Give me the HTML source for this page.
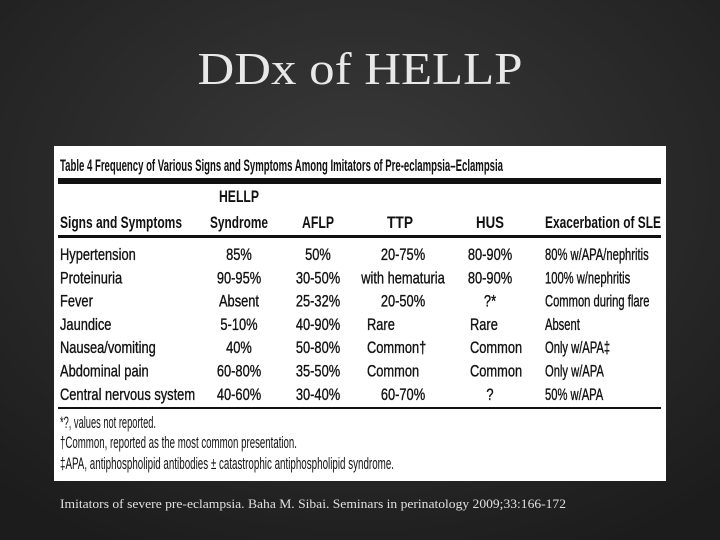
<!DOCTYPE html>
<html><head><meta charset="utf-8"><style>
html,body{margin:0;padding:0;width:720px;height:540px;overflow:hidden;background:#222}
svg{display:block}
.c{font-family:"Liberation Sans",sans-serif;font-size:16.5px;fill:#111}
.h{font-weight:bold}
</style></head><body>
<svg width="720" height="540" viewBox="0 0 720 540">
<defs><radialGradient id="bg" cx="50%" cy="35%" r="75%"><stop offset="0" stop-color="#3a3a3a"/><stop offset="1" stop-color="#1c1c1c"/></radialGradient></defs>
<rect width="720" height="540" fill="url(#bg)"/>
<text x="360" y="84" text-anchor="middle" textLength="325" lengthAdjust="spacingAndGlyphs" font-family="Liberation Serif, serif" font-size="46" fill="#e8e8e8">DDx of HELLP</text>
<rect x="54" y="146" width="612" height="335" fill="#fff"/>
<text x="60" y="171" class="c h" font-size="14" textLength="443" lengthAdjust="spacingAndGlyphs">Table 4  Frequency of Various Signs and Symptoms Among Imitators of Pre-eclampsia–Eclampsia</text>
<rect x="58" y="178" width="603" height="6" fill="#111"/>
<rect x="58" y="235" width="603" height="3" fill="#111"/>
<rect x="58" y="407" width="603" height="2" fill="#111"/>
<g class="c h" font-size="16">
<text x="239" y="202" text-anchor="middle" textLength="40" lengthAdjust="spacingAndGlyphs">HELLP</text>
<text x="60" y="228" textLength="122" lengthAdjust="spacingAndGlyphs">Signs and Symptoms</text>
<text x="239" y="228" text-anchor="middle" textLength="58" lengthAdjust="spacingAndGlyphs">Syndrome</text>
<text x="318" y="228" text-anchor="middle" textLength="32" lengthAdjust="spacingAndGlyphs">AFLP</text>
<text x="400" y="228" text-anchor="middle" textLength="26" lengthAdjust="spacingAndGlyphs">TTP</text>
<text x="490" y="228" text-anchor="middle" textLength="28" lengthAdjust="spacingAndGlyphs">HUS</text>
<text x="545" y="228" textLength="116" lengthAdjust="spacingAndGlyphs">Exacerbation of SLE</text>
</g>
<g class="c" id="rows" transform="scale(0.78,1)"></g>
<g class="c" font-size="13.5">
<text x="60" y="428" textLength="96" lengthAdjust="spacingAndGlyphs">*?, values not reported.</text>
<text x="60" y="448" textLength="237" lengthAdjust="spacingAndGlyphs">†Common, reported as the most common presentation.</text>
<text x="60" y="469" textLength="334" lengthAdjust="spacingAndGlyphs">‡APA, antiphospholipid antibodies ± catastrophic antiphospholipid syndrome.</text>
</g>
<text x="60" y="508" font-family="Liberation Serif, serif" font-size="13" fill="#e0e0e0" textLength="506" lengthAdjust="spacingAndGlyphs">Imitators of severe pre-eclampsia. Baha M. Sibai. Seminars in perinatology 2009;33:166-172</text>
</svg>
<script>
const rows=[
["Hypertension","85%","50%","20-75%","80-90%","80% w/APA/nephritis"],
["Proteinuria","90-95%","30-50%","with hematuria","80-90%","100% w/nephritis"],
["Fever","Absent","25-32%","20-50%","?*","Common during flare"],
["Jaundice","5-10%","40-90%","Rare","Rare","Absent"],
["Nausea/vomiting","40%","50-80%","Common†","Common","Only w/APA‡"],
["Abdominal pain","60-80%","35-50%","Common","Common","Only w/APA"],
["Central nervous system","40-60%","30-40%","60-70%","?","50% w/APA"]];
const g=document.getElementById('rows');const ns='http://www.w3.org/2000/svg';const S=0.78;
rows.forEach((r,i)=>{const y=260+i*23.3;
r.forEach((t,j)=>{const e=document.createElementNS(ns,'text');


let x,a='middle',k=1;
if(j==0){x=60;a='start'}else if(j==1)x=239;else if(j==2)x=318;
else if(j==3){if(i>=3&&i<=5){x=367;a='start'}else x=403}
else if(j==4){if(i>=3&&i<=5){x=470;a='start'}else x=490}
else {x=545;a='start';k=0.87;e.setAttribute('transform','scale(0.87,1)');}
e.setAttribute('x',x/(S*k));e.setAttribute('y',y);e.setAttribute('text-anchor',a);
e.setAttribute('stroke','#111');e.setAttribute('stroke-width','0.35');
e.textContent=t;g.appendChild(e);});});
</script>
</body></html>
